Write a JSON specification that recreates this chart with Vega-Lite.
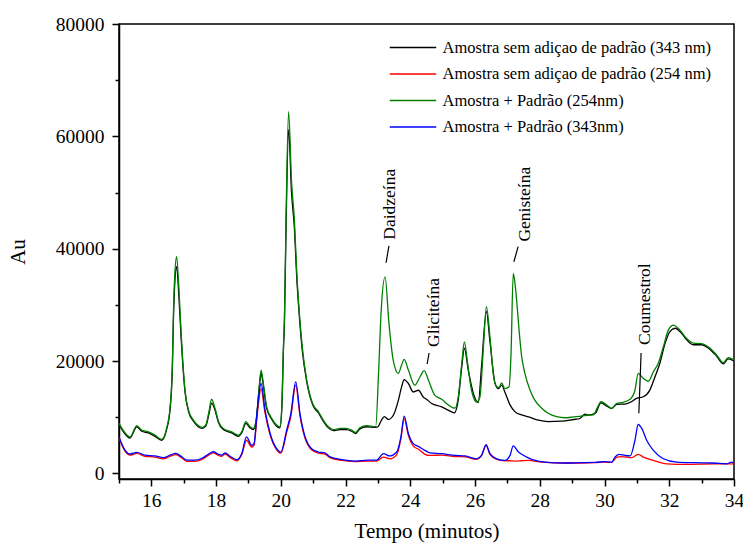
{
"$schema":"https://vega.github.io/schema/vega-lite/v6.json",
"width":615,"height":455,
"autosize":{"type":"none"},
"padding":{"left":119,"top":24,"right":9,"bottom":65},
"background":"white",
"config":{"view":{"stroke":"black","strokeWidth":1.5},"font":"Liberation Serif",
"axis":{"grid":false,"domainColor":"black","domainWidth":1.5,"tickColor":"black","tickWidth":1.5,"labelColor":"black","titleColor":"black","labelFont":"Liberation Serif","titleFont":"Liberation Serif","titleFontWeight":"normal","labelFontSize":19.5,"titleFontSize":21,"labelFlush":false}},
"datasets":{
"names":[{"k":"A","name":"Amostra sem adiçao de padrão (343 nm)"},{"k":"B","name":"Amostra sem adiçao de padrão (254 nm)"},{"k":"C","name":"Amostra + Padrão (254nm)"},{"k":"D","name":"Amostra + Padrão (343nm)"}]
},
"layer":[
{"data":{"values":[
{"k":"A","t":15.00,"v":8700},{"k":"A","t":15.15,"v":7300},{"k":"A","t":15.34,"v":6300},{"k":"A","t":15.55,"v":8300},{"k":"A","t":15.70,"v":7500},{"k":"A","t":15.91,"v":7200},{"k":"A","t":16.11,"v":6600},{"k":"A","t":16.32,"v":5900},{"k":"A","t":16.47,"v":7800},{"k":"A","t":16.58,"v":11500},{"k":"A","t":16.65,"v":19000},{"k":"A","t":16.68,"v":27000},{"k":"A","t":16.72,"v":33500},{"k":"A","t":16.78,"v":36800},{"k":"A","t":16.85,"v":31500},{"k":"A","t":16.92,"v":24000},{"k":"A","t":16.97,"v":19500},{"k":"A","t":17.04,"v":14500},{"k":"A","t":17.16,"v":10800},{"k":"A","t":17.30,"v":9300},{"k":"A","t":17.45,"v":8300},{"k":"A","t":17.57,"v":8000},{"k":"A","t":17.68,"v":8400},{"k":"A","t":17.78,"v":10600},{"k":"A","t":17.86,"v":12500},{"k":"A","t":17.97,"v":11200},{"k":"A","t":18.07,"v":9100},{"k":"A","t":18.22,"v":7800},{"k":"A","t":18.48,"v":7200},{"k":"A","t":18.69,"v":6600},{"k":"A","t":18.79,"v":7200},{"k":"A","t":18.92,"v":8900},{"k":"A","t":19.05,"v":8100},{"k":"A","t":19.15,"v":7800},{"k":"A","t":19.25,"v":9800},{"k":"A","t":19.33,"v":15000},{"k":"A","t":19.39,"v":17800},{"k":"A","t":19.46,"v":15600},{"k":"A","t":19.56,"v":11600},{"k":"A","t":19.72,"v":9600},{"k":"A","t":19.87,"v":8400},{"k":"A","t":19.97,"v":8100},{"k":"A","t":20.03,"v":11500},{"k":"A","t":20.08,"v":22000},{"k":"A","t":20.11,"v":26500},{"k":"A","t":20.16,"v":43500},{"k":"A","t":20.24,"v":61200},{"k":"A","t":20.33,"v":50000},{"k":"A","t":20.42,"v":43500},{"k":"A","t":20.49,"v":35000},{"k":"A","t":20.58,"v":27300},{"k":"A","t":20.66,"v":22000},{"k":"A","t":20.80,"v":16300},{"k":"A","t":21.00,"v":12000},{"k":"A","t":21.16,"v":10800},{"k":"A","t":21.31,"v":9300},{"k":"A","t":21.47,"v":8100},{"k":"A","t":21.62,"v":7600},{"k":"A","t":21.83,"v":7800},{"k":"A","t":22.03,"v":7800},{"k":"A","t":22.19,"v":7500},{"k":"A","t":22.31,"v":7100},{"k":"A","t":22.44,"v":7900},{"k":"A","t":22.65,"v":8300},{"k":"A","t":22.93,"v":8200},{"k":"A","t":23.00,"v":8300},{"k":"A","t":23.11,"v":9500},{"k":"A","t":23.20,"v":10100},{"k":"A","t":23.32,"v":9600},{"k":"A","t":23.48,"v":10400},{"k":"A","t":23.63,"v":13000},{"k":"A","t":23.73,"v":15400},{"k":"A","t":23.81,"v":16700},{"k":"A","t":23.94,"v":16000},{"k":"A","t":24.09,"v":14500},{"k":"A","t":24.25,"v":14800},{"k":"A","t":24.40,"v":13600},{"k":"A","t":24.50,"v":13200},{"k":"A","t":24.66,"v":12450},{"k":"A","t":24.97,"v":11850},{"k":"A","t":25.17,"v":11260},{"k":"A","t":25.36,"v":10780},{"k":"A","t":25.48,"v":13050},{"k":"A","t":25.59,"v":19000},{"k":"A","t":25.67,"v":22300},{"k":"A","t":25.79,"v":18400},{"k":"A","t":25.95,"v":14200},{"k":"A","t":26.10,"v":12600},{"k":"A","t":26.20,"v":19000},{"k":"A","t":26.35,"v":28800},{"k":"A","t":26.46,"v":23500},{"k":"A","t":26.62,"v":16000},{"k":"A","t":26.72,"v":15100},{"k":"A","t":26.82,"v":15700},{"k":"A","t":26.92,"v":14500},{"k":"A","t":27.08,"v":12200},{"k":"A","t":27.23,"v":11000},{"k":"A","t":27.44,"v":10400},{"k":"A","t":27.65,"v":10070},{"k":"A","t":27.96,"v":9470},{"k":"A","t":28.26,"v":9230},{"k":"A","t":28.68,"v":9290},{"k":"A","t":29.04,"v":9590},{"k":"A","t":29.24,"v":9770},{"k":"A","t":29.40,"v":10550},{"k":"A","t":29.50,"v":10370},{"k":"A","t":29.71,"v":10670},{"k":"A","t":29.89,"v":12570},{"k":"A","t":30.07,"v":11970},{"k":"A","t":30.22,"v":11560},{"k":"A","t":30.38,"v":12300},{"k":"A","t":30.63,"v":12330},{"k":"A","t":30.79,"v":12630},{"k":"A","t":30.99,"v":13350},{"k":"A","t":31.20,"v":13640},{"k":"A","t":31.40,"v":14830},{"k":"A","t":31.56,"v":17220},{"k":"A","t":31.71,"v":19600},{"k":"A","t":31.87,"v":23160},{"k":"A","t":32.02,"v":25250},{"k":"A","t":32.18,"v":25840},{"k":"A","t":32.38,"v":24950},{"k":"A","t":32.54,"v":23760},{"k":"A","t":32.74,"v":22900},{"k":"A","t":33.00,"v":22900},{"k":"A","t":33.21,"v":22300},{"k":"A","t":33.46,"v":20900},{"k":"A","t":33.67,"v":19500},{"k":"A","t":33.82,"v":20400},{"k":"A","t":34.00,"v":20000},
{"k":"B","t":15.00,"v":6300},{"k":"B","t":15.19,"v":3900},{"k":"B","t":15.34,"v":3250},{"k":"B","t":15.55,"v":3550},{"k":"B","t":15.80,"v":3050},{"k":"B","t":16.11,"v":2900},{"k":"B","t":16.37,"v":2600},{"k":"B","t":16.58,"v":3050},{"k":"B","t":16.75,"v":3350},{"k":"B","t":16.94,"v":2750},{"k":"B","t":17.09,"v":2150},{"k":"B","t":17.35,"v":2150},{"k":"B","t":17.55,"v":2450},{"k":"B","t":17.76,"v":3200},{"k":"B","t":17.91,"v":3650},{"k":"B","t":18.07,"v":3200},{"k":"B","t":18.17,"v":3050},{"k":"B","t":18.28,"v":3450},{"k":"B","t":18.43,"v":2850},{"k":"B","t":18.64,"v":2250},{"k":"B","t":18.79,"v":3300},{"k":"B","t":18.94,"v":5900},{"k":"B","t":19.10,"v":4700},{"k":"B","t":19.17,"v":5000},{"k":"B","t":19.28,"v":11000},{"k":"B","t":19.39,"v":15100},{"k":"B","t":19.51,"v":10800},{"k":"B","t":19.67,"v":6800},{"k":"B","t":19.87,"v":4200},{"k":"B","t":20.00,"v":3600},{"k":"B","t":20.18,"v":7300},{"k":"B","t":20.31,"v":10200},{"k":"B","t":20.46,"v":15700},{"k":"B","t":20.59,"v":10300},{"k":"B","t":20.75,"v":6200},{"k":"B","t":20.95,"v":4200},{"k":"B","t":21.16,"v":3600},{"k":"B","t":21.36,"v":3450},{"k":"B","t":21.52,"v":2800},{"k":"B","t":21.88,"v":2300},{"k":"B","t":22.29,"v":2100},{"k":"B","t":22.70,"v":2200},{"k":"B","t":22.96,"v":2200},{"k":"B","t":23.17,"v":2900},{"k":"B","t":23.37,"v":2600},{"k":"B","t":23.58,"v":3300},{"k":"B","t":23.71,"v":6200},{"k":"B","t":23.81,"v":9800},{"k":"B","t":23.94,"v":6800},{"k":"B","t":24.09,"v":4900},{"k":"B","t":24.25,"v":4300},{"k":"B","t":24.45,"v":3400},{"k":"B","t":24.61,"v":3200},{"k":"B","t":24.97,"v":3250},{"k":"B","t":25.38,"v":3000},{"k":"B","t":25.69,"v":2950},{"k":"B","t":26.05,"v":2500},{"k":"B","t":26.20,"v":3100},{"k":"B","t":26.34,"v":5000},{"k":"B","t":26.46,"v":3400},{"k":"B","t":26.67,"v":2500},{"k":"B","t":26.92,"v":2250},{"k":"B","t":27.08,"v":2250},{"k":"B","t":27.23,"v":2200},{"k":"B","t":27.44,"v":2250},{"k":"B","t":27.65,"v":2300},{"k":"B","t":28.06,"v":2000},{"k":"B","t":28.78,"v":1850},{"k":"B","t":29.29,"v":1850},{"k":"B","t":29.71,"v":1900},{"k":"B","t":30.01,"v":2000},{"k":"B","t":30.22,"v":1950},{"k":"B","t":30.38,"v":2900},{"k":"B","t":30.53,"v":3000},{"k":"B","t":30.84,"v":2800},{"k":"B","t":31.04,"v":3400},{"k":"B","t":31.20,"v":2900},{"k":"B","t":31.51,"v":2300},{"k":"B","t":31.92,"v":1700},{"k":"B","t":32.54,"v":1600},{"k":"B","t":33.36,"v":1700},{"k":"B","t":34.00,"v":1700},
{"k":"C","t":15.00,"v":8900},{"k":"C","t":15.15,"v":7500},{"k":"C","t":15.34,"v":6500},{"k":"C","t":15.55,"v":8500},{"k":"C","t":15.70,"v":7700},{"k":"C","t":15.91,"v":7400},{"k":"C","t":16.11,"v":6800},{"k":"C","t":16.32,"v":6050},{"k":"C","t":16.47,"v":8000},{"k":"C","t":16.58,"v":11900},{"k":"C","t":16.65,"v":19600},{"k":"C","t":16.68,"v":28000},{"k":"C","t":16.72,"v":35000},{"k":"C","t":16.78,"v":38600},{"k":"C","t":16.85,"v":33000},{"k":"C","t":16.92,"v":25000},{"k":"C","t":16.97,"v":20000},{"k":"C","t":17.04,"v":14800},{"k":"C","t":17.16,"v":11000},{"k":"C","t":17.30,"v":9500},{"k":"C","t":17.45,"v":8500},{"k":"C","t":17.57,"v":8200},{"k":"C","t":17.68,"v":8600},{"k":"C","t":17.78,"v":11000},{"k":"C","t":17.86,"v":13200},{"k":"C","t":17.97,"v":11500},{"k":"C","t":18.07,"v":9300},{"k":"C","t":18.22,"v":8000},{"k":"C","t":18.48,"v":7400},{"k":"C","t":18.69,"v":6800},{"k":"C","t":18.79,"v":7400},{"k":"C","t":18.92,"v":9200},{"k":"C","t":19.05,"v":8300},{"k":"C","t":19.15,"v":8000},{"k":"C","t":19.25,"v":10100},{"k":"C","t":19.33,"v":15400},{"k":"C","t":19.39,"v":18400},{"k":"C","t":19.46,"v":16000},{"k":"C","t":19.56,"v":11900},{"k":"C","t":19.72,"v":9800},{"k":"C","t":19.87,"v":8600},{"k":"C","t":19.97,"v":8300},{"k":"C","t":20.03,"v":11900},{"k":"C","t":20.08,"v":22600},{"k":"C","t":20.11,"v":27300},{"k":"C","t":20.16,"v":45200},{"k":"C","t":20.24,"v":64400},{"k":"C","t":20.33,"v":52000},{"k":"C","t":20.42,"v":45000},{"k":"C","t":20.49,"v":36000},{"k":"C","t":20.58,"v":28000},{"k":"C","t":20.66,"v":22600},{"k":"C","t":20.80,"v":16600},{"k":"C","t":21.00,"v":12200},{"k":"C","t":21.16,"v":11000},{"k":"C","t":21.31,"v":9500},{"k":"C","t":21.47,"v":8300},{"k":"C","t":21.62,"v":7800},{"k":"C","t":21.83,"v":8000},{"k":"C","t":22.03,"v":8000},{"k":"C","t":22.19,"v":7700},{"k":"C","t":22.31,"v":7300},{"k":"C","t":22.44,"v":8100},{"k":"C","t":22.65,"v":8500},{"k":"C","t":22.93,"v":8300},{"k":"C","t":23.02,"v":18000},{"k":"C","t":23.10,"v":29000},{"k":"C","t":23.22,"v":35000},{"k":"C","t":23.34,"v":26700},{"k":"C","t":23.47,"v":20200},{"k":"C","t":23.63,"v":17800},{"k":"C","t":23.73,"v":19300},{"k":"C","t":23.81,"v":20300},{"k":"C","t":23.94,"v":18400},{"k":"C","t":24.14,"v":15700},{"k":"C","t":24.30,"v":17200},{"k":"C","t":24.43,"v":18300},{"k":"C","t":24.56,"v":16600},{"k":"C","t":24.76,"v":13900},{"k":"C","t":24.97,"v":13200},{"k":"C","t":25.17,"v":12200},{"k":"C","t":25.38,"v":11600},{"k":"C","t":25.48,"v":13600},{"k":"C","t":25.59,"v":19600},{"k":"C","t":25.67,"v":23400},{"k":"C","t":25.77,"v":19600},{"k":"C","t":25.89,"v":14800},{"k":"C","t":26.05,"v":12700},{"k":"C","t":26.15,"v":13600},{"k":"C","t":26.26,"v":22600},{"k":"C","t":26.35,"v":29700},{"k":"C","t":26.46,"v":24300},{"k":"C","t":26.56,"v":17800},{"k":"C","t":26.67,"v":15400},{"k":"C","t":26.74,"v":15300},{"k":"C","t":26.82,"v":16100},{"k":"C","t":26.92,"v":15100},{"k":"C","t":27.05,"v":15400},{"k":"C","t":27.11,"v":21000},{"k":"C","t":27.18,"v":35600},{"k":"C","t":27.24,"v":33500},{"k":"C","t":27.29,"v":30500},{"k":"C","t":27.36,"v":25500},{"k":"C","t":27.44,"v":20800},{"k":"C","t":27.54,"v":17800},{"k":"C","t":27.70,"v":14800},{"k":"C","t":27.85,"v":13000},{"k":"C","t":28.06,"v":11600},{"k":"C","t":28.26,"v":10700},{"k":"C","t":28.52,"v":10100},{"k":"C","t":28.78,"v":9900},{"k":"C","t":29.04,"v":10050},{"k":"C","t":29.29,"v":10200},{"k":"C","t":29.45,"v":10350},{"k":"C","t":29.65,"v":10400},{"k":"C","t":29.79,"v":11850},{"k":"C","t":29.89,"v":12750},{"k":"C","t":30.07,"v":12150},{"k":"C","t":30.22,"v":11550},{"k":"C","t":30.38,"v":12450},{"k":"C","t":30.53,"v":12600},{"k":"C","t":30.79,"v":13200},{"k":"C","t":30.94,"v":14800},{"k":"C","t":31.04,"v":17800},{"k":"C","t":31.20,"v":16900},{"k":"C","t":31.35,"v":16400},{"k":"C","t":31.51,"v":18100},{"k":"C","t":31.66,"v":19600},{"k":"C","t":31.82,"v":22600},{"k":"C","t":31.97,"v":25500},{"k":"C","t":32.13,"v":26400},{"k":"C","t":32.33,"v":25500},{"k":"C","t":32.54,"v":24000},{"k":"C","t":32.74,"v":23200},{"k":"C","t":33.00,"v":23100},{"k":"C","t":33.21,"v":22500},{"k":"C","t":33.46,"v":21100},{"k":"C","t":33.67,"v":19700},{"k":"C","t":33.82,"v":20600},{"k":"C","t":34.00,"v":20200},
{"k":"D","t":15.00,"v":6500},{"k":"D","t":15.19,"v":4100},{"k":"D","t":15.34,"v":3450},{"k":"D","t":15.55,"v":3750},{"k":"D","t":15.80,"v":3250},{"k":"D","t":16.11,"v":3100},{"k":"D","t":16.37,"v":2800},{"k":"D","t":16.58,"v":3250},{"k":"D","t":16.75,"v":3550},{"k":"D","t":16.94,"v":2950},{"k":"D","t":17.09,"v":2350},{"k":"D","t":17.35,"v":2350},{"k":"D","t":17.55,"v":2650},{"k":"D","t":17.76,"v":3400},{"k":"D","t":17.91,"v":3850},{"k":"D","t":18.07,"v":3400},{"k":"D","t":18.17,"v":3250},{"k":"D","t":18.28,"v":3650},{"k":"D","t":18.43,"v":3050},{"k":"D","t":18.64,"v":2450},{"k":"D","t":18.79,"v":3500},{"k":"D","t":18.94,"v":6500},{"k":"D","t":19.10,"v":5000},{"k":"D","t":19.17,"v":5300},{"k":"D","t":19.28,"v":11850},{"k":"D","t":19.39,"v":16000},{"k":"D","t":19.51,"v":11300},{"k":"D","t":19.67,"v":7100},{"k":"D","t":19.87,"v":4400},{"k":"D","t":20.00,"v":3800},{"k":"D","t":20.18,"v":7700},{"k":"D","t":20.31,"v":10700},{"k":"D","t":20.46,"v":16300},{"k":"D","t":20.59,"v":10700},{"k":"D","t":20.75,"v":6500},{"k":"D","t":20.95,"v":4400},{"k":"D","t":21.16,"v":3800},{"k":"D","t":21.36,"v":3650},{"k":"D","t":21.52,"v":2950},{"k":"D","t":21.88,"v":2450},{"k":"D","t":22.29,"v":2200},{"k":"D","t":22.70,"v":2350},{"k":"D","t":22.96,"v":2350},{"k":"D","t":23.17,"v":3500},{"k":"D","t":23.37,"v":3100},{"k":"D","t":23.58,"v":3800},{"k":"D","t":23.71,"v":6500},{"k":"D","t":23.81,"v":10200},{"k":"D","t":23.94,"v":7100},{"k":"D","t":24.09,"v":5300},{"k":"D","t":24.25,"v":4800},{"k":"D","t":24.45,"v":4100},{"k":"D","t":24.61,"v":3650},{"k":"D","t":24.97,"v":3500},{"k":"D","t":25.38,"v":3200},{"k":"D","t":25.69,"v":3100},{"k":"D","t":26.05,"v":2600},{"k":"D","t":26.20,"v":3200},{"k":"D","t":26.34,"v":5100},{"k":"D","t":26.46,"v":3500},{"k":"D","t":26.67,"v":2600},{"k":"D","t":26.92,"v":2300},{"k":"D","t":27.08,"v":3200},{"k":"D","t":27.18,"v":4900},{"k":"D","t":27.34,"v":3800},{"k":"D","t":27.44,"v":3400},{"k":"D","t":27.75,"v":2500},{"k":"D","t":28.16,"v":2000},{"k":"D","t":28.78,"v":1850},{"k":"D","t":29.29,"v":1900},{"k":"D","t":29.71,"v":1950},{"k":"D","t":30.01,"v":2100},{"k":"D","t":30.22,"v":2000},{"k":"D","t":30.32,"v":2900},{"k":"D","t":30.45,"v":3400},{"k":"D","t":30.63,"v":3200},{"k":"D","t":30.79,"v":3100},{"k":"D","t":30.94,"v":5900},{"k":"D","t":31.04,"v":8700},{"k":"D","t":31.15,"v":8000},{"k":"D","t":31.30,"v":5900},{"k":"D","t":31.51,"v":4100},{"k":"D","t":31.82,"v":2600},{"k":"D","t":32.23,"v":2000},{"k":"D","t":32.74,"v":1900},{"k":"D","t":33.36,"v":1850},{"k":"D","t":33.77,"v":1700},{"k":"D","t":33.93,"v":2000},{"k":"D","t":34.00,"v":1900}
]},
"transform":[{"lookup":"k","from":{"data":{"name":"names"},"key":"k","fields":["name"]}}],
"mark":{"type":"line","strokeWidth":1.3,"interpolate":"monotone"},
"encoding":{
"x":{"field":"t","type":"quantitative","scale":{"domain":[15,34],"nice":false,"zero":false},"axis":{"orient":"bottom","values":[16,18,20,22,24,26,28,30,32,34],"tickSize":7,"labelPadding":5,"title":"Tempo (minutos)","titlePadding":11}},
"y":{"field":"v","type":"quantitative","scale":{"domain":[-1000,80000],"nice":false,"zero":false},"axis":{"orient":"left","values":[0,20000,40000,60000,80000],"tickSize":7,"labelPadding":8,"title":"Au","titlePadding":27,"format":"d"}},
"color":{"field":"name","type":"nominal","scale":{"domain":["Amostra sem adiçao de padrão (343 nm)","Amostra sem adiçao de padrão (254 nm)","Amostra + Padrão (254nm)","Amostra + Padrão (343nm)"],"range":["#000000","#ff0000","#008000","#0000ff"]},
"legend":{"orient":"none","legendX":285.5,"legendY":15,"title":null,"padding":0,"symbolType":"M-3,0H3","symbolSize":240,"symbolStrokeWidth":1.3,"labelOffset":21,"labelFont":"Liberation Serif","labelFontSize":16.5,"labelColor":"black","labelLimit":400,"rowPadding":9.5}}
}},
{"data":{"values":[{"t":23.34,"v":40500,"t2":23.25,"v2":37500},{"t":24.58,"v":21430,"t2":24.52,"v2":19470},{"t":27.33,"v":40360,"t2":27.20,"v2":37680},{"t":31.13,"v":21430,"t2":31.06,"v2":10720}]},
"mark":{"type":"rule","color":"black","strokeWidth":1.2},
"encoding":{
"x":{"field":"t","type":"quantitative","axis":{"orient":"bottom","values":[15,17,19,21,23,25,27,29,31,33],"tickSize":4,"labels":false,"domain":false,"title":null}},
"y":{"field":"v","type":"quantitative","axis":{"orient":"left","values":[10000,30000,50000,70000],"tickSize":4,"labels":false,"domain":false,"title":null}},
"x2":{"field":"t2"},"y2":{"field":"v2"}}},
{"data":{"values":[{"t":23.37,"v":41600,"label":"Daidzeína"},{"t":24.72,"v":22500,"label":"Gliciteína"},{"t":27.53,"v":41260,"label":"Genisteína"},{"t":31.25,"v":22860,"label":"Coumestrol"}]},
"mark":{"type":"text","angle":270,"align":"left","baseline":"middle","font":"Liberation Serif","fontSize":17.5,"color":"black"},
"encoding":{"x":{"field":"t","type":"quantitative","axis":null},"y":{"field":"v","type":"quantitative","axis":null},"text":{"field":"label"}}}
],
"resolve":{"axis":{"x":"independent","y":"independent"}}
}
